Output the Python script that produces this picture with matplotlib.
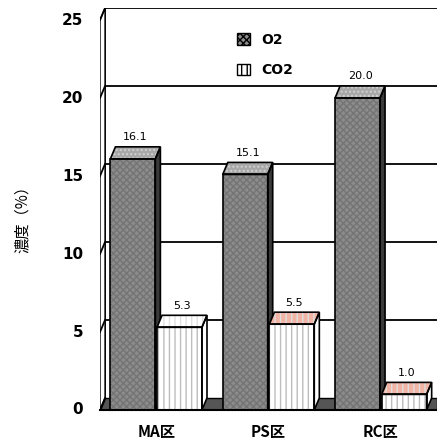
import matplotlib.pyplot as plt
from matplotlib.patches import Polygon, Patch

plt.rcParams['font.family'] = ['Noto Sans CJK JP', 'DejaVu Sans']

categories = ['MA区', 'PS区', 'RC区']
o2 = [16.1, 15.1, 20.0]
co2 = [5.3, 5.5, 1.0]
o2_labels = ['16.1', '15.1', '20.0']
co2_labels = ['5.3', '5.5', '1.0']
co2_top_colors = ['#ffffff', '#f2b4a4', '#f2b4a4']

W, H = 437, 447
fig = plt.figure(figsize=(W / 100, H / 100), dpi=100)
ax = fig.add_axes([100 / W, 1 - 410 / H, 337 / W, 402 / H])
ax.set_xlim(-0.5, 2.5)
ax.set_ylim(0, 25.77)
ax.axis('off')

dx, dy = 0.045, 0.77   # depth offset of the 3d look
bw = 0.4
gap = 0.015


def layer(poly_xy, face, hatch=None, hcolor=None, z=3):
    ax.add_patch(Polygon(poly_xy, closed=True, facecolor=face, edgecolor=hcolor or face,
                         hatch=hatch, linewidth=0, zorder=z))
    ax.add_patch(Polygon(poly_xy, closed=True, facecolor='none', edgecolor='black',
                         linewidth=1.2, zorder=z + 0.1))


def bar3d(x0, h, front, fhatch, fh, top, thatch, th, side, z):
    x1 = x0 + bw
    layer([(x1, 0), (x1 + dx, dy), (x1 + dx, h + dy), (x1, h)], side, None, None, z)
    layer([(x0, h), (x1, h), (x1 + dx, h + dy), (x0 + dx, h + dy)], top, thatch, th, z)
    layer([(x0, 0), (x1, 0), (x1, h), (x0, h)], front, fhatch, fh, z)


# back wall with gridlines
for v in range(5, 30, 5):
    ax.plot([-0.5 + dx, 2.5], [v + dy, v + dy], color='black', lw=1.3, zorder=1)
ax.plot([-0.5 + dx, -0.5 + dx], [dy, 25 + dy], color='black', lw=1.3, zorder=1)
# left wall / axis
ax.add_patch(Polygon([(-0.5, 0), (-0.5 + dx, dy), (-0.5 + dx, 25 + dy), (-0.5, 25)],
                     closed=True, facecolor='white', edgecolor='black', lw=1, zorder=2))
for v in range(0, 30, 5):
    ax.plot([-0.5, -0.5 + dx], [v, v + dy], color='black', lw=1.3, zorder=2)
# floor
ax.add_patch(Polygon([(-0.5, 0), (2.5, 0), (2.5, dy), (-0.5 + dx, dy)], closed=True,
                     facecolor='#555555', edgecolor='black', lw=1, zorder=1.5))
ax.plot([-0.5, 2.5], [0, 0], color='black', lw=1.5, zorder=6, clip_on=False)

for i in range(3):
    x0 = i - bw - gap / 2
    bar3d(x0, o2[i], '#8c8c8c', 'xxxxx', '#747474', '#a8a8a8', '....', '#d0d0d0', '#3a3a3a', 3 + i)
    ax.text(x0 + bw / 2 + dx / 2, o2[i] + dy + 0.3, o2_labels[i], ha='center', va='bottom',
            fontsize=8, family='DejaVu Sans', zorder=10)
    x1 = i + gap / 2
    bar3d(x1, co2[i], '#ffffff', '|||', '#bdbdbd', co2_top_colors[i], '|||', '#e0e0e0', '#ffffff', 3.5 + i)
    ax.text(x1 + bw / 2 + dx / 2, co2[i] + dy + 0.3, co2_labels[i], ha='center', va='bottom',
            fontsize=8, family='DejaVu Sans', zorder=10)

# y tick labels
for v in range(0, 30, 5):
    ax.text(-0.65, v, str(v), ha='right', va='center', fontsize=11, fontweight='bold',
            family='DejaVu Sans', clip_on=False)
# category labels
for i, c in enumerate(categories):
    ax.text(i, -1.4, c, ha='center', va='center', fontsize=11, fontweight='bold', clip_on=False)

fig.text(22 / W, 1 - 215 / H, '濃度（%）', rotation=90, ha='center', va='center', fontsize=11)

handles = [Patch(facecolor='#8c8c8c', edgecolor='black', hatch='xxxxx', label='O2'),
           Patch(facecolor='white', edgecolor='black', hatch='|||', label='CO2')]
leg = ax.legend(handles=handles, loc='upper left', bbox_to_anchor=(0.37, 0.97), frameon=False,
                prop={'weight': 'bold', 'size': 10, 'family': 'DejaVu Sans'},
                handlelength=0.9, handleheight=0.9, labelspacing=1.2)

fig.savefig('out.png', dpi=100)
